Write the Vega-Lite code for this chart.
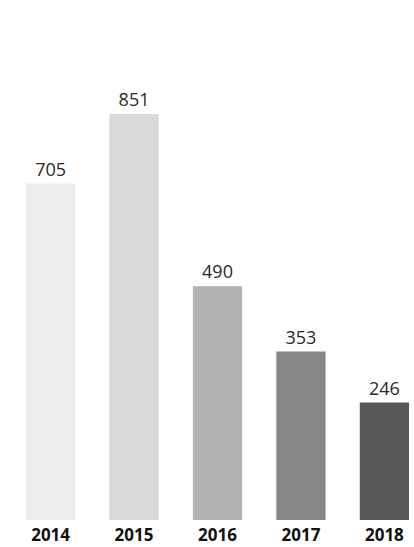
{
  "$schema": "https://vega.github.io/schema/vega-lite/v6.json",
  "autosize": {"type": "none"},
  "padding": {"left": 26, "top": 40, "right": 5, "bottom": 27},
  "width": 383,
  "height": 480,
  "background": "white",
  "config": {"view": {"stroke": null}, "font": "Open Sans"},
  "data": {"values": [
    {"year": "2014", "value": 705, "color": "#ececec"},
    {"year": "2015", "value": 851, "color": "#d9d9d9"},
    {"year": "2016", "value": 490, "color": "#b2b2b2"},
    {"year": "2017", "value": 353, "color": "#878787"},
    {"year": "2018", "value": 246, "color": "#575756"}
  ]},
  "encoding": {
    "x": {"field": "year", "type": "nominal", "sort": null,
      "scale": {"paddingInner": 0.41, "paddingOuter": 0},
      "axis": {"title": null, "domain": false, "ticks": false, "labelAngle": 0,
        "labelFont": "Open Sans", "labelFontSize": 17, "labelFontWeight": "bold",
        "labelColor": "#111111", "labelPadding": 7}},
    "y": {"field": "value", "type": "quantitative",
      "scale": {"domain": [0, 1006], "nice": false}, "axis": null}
  },
  "layer": [
    {"mark": {"type": "bar"}, "encoding": {"color": {"field": "color", "type": "nominal", "scale": null}}},
    {"mark": {"type": "text", "baseline": "alphabetic", "dy": -8, "fontSize": 18, "font": "Open Sans", "color": "#2a2a2a"},
     "encoding": {"text": {"field": "value", "type": "quantitative"}}}
  ]
}
